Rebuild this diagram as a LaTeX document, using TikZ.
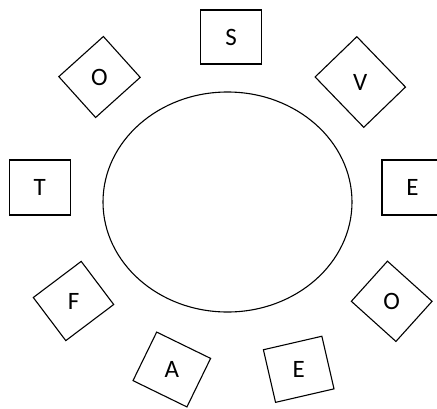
\documentclass[tikz,border=0pt]{standalone}
\usepackage{fontspec}
\setmainfont{Carlito}
\usetikzlibrary{shapes.geometric}

\tikzset{
  seat/.style={draw, line width=1.1pt, minimum width=60pt, minimum height=54pt, inner sep=0pt},
  letter/.style={font=\fontsize{25}{25}\selectfont, inner sep=0pt}
}

\begin{document}
\begin{tikzpicture}[x=1pt, y=1pt]
\useasboundingbox (0,0) rectangle (437,-408);
\node[draw, ellipse, line width=1.1pt, minimum width=249pt, minimum height=220pt] (table) at (227.5,-202) {};
% seats round the table
\node[seat, minimum width=61pt] (s) at (231,-37) {};
\node[letter] at (s) {S};
\node[seat, rotate=-46, minimum width=70pt, minimum height=58pt] (v) at (360.3,-82) {};
\node[letter] at (v) {V};
\node[seat, minimum width=61pt, minimum height=55pt] (e1) at (412.5,-187.5) {};
\node[letter] at (e1) {E};
\node[seat, rotate=-42] (o2) at (391.7,-301.3) {};
\node[letter] at (o2) {O};
\node[seat, rotate=13] (e2) at (298.7,-369.3) {};
\node[letter] at (e2) {E};
\node[seat, rotate=-26] (a) at (171.8,-369.5) {};
\node[letter] at (a) {A};
\node[seat, rotate=37] (f) at (73.5,-301) {};
\node[letter] at (f) {F};
\node[seat, minimum width=61pt, minimum height=55pt] (t) at (39.7,-187.5) {};
\node[letter] at (t) {T};
\node[seat, rotate=42, minimum height=55pt] (o1) at (99.5,-77) {};
\node[letter] at (o1) {O};
\end{tikzpicture}
\end{document}
